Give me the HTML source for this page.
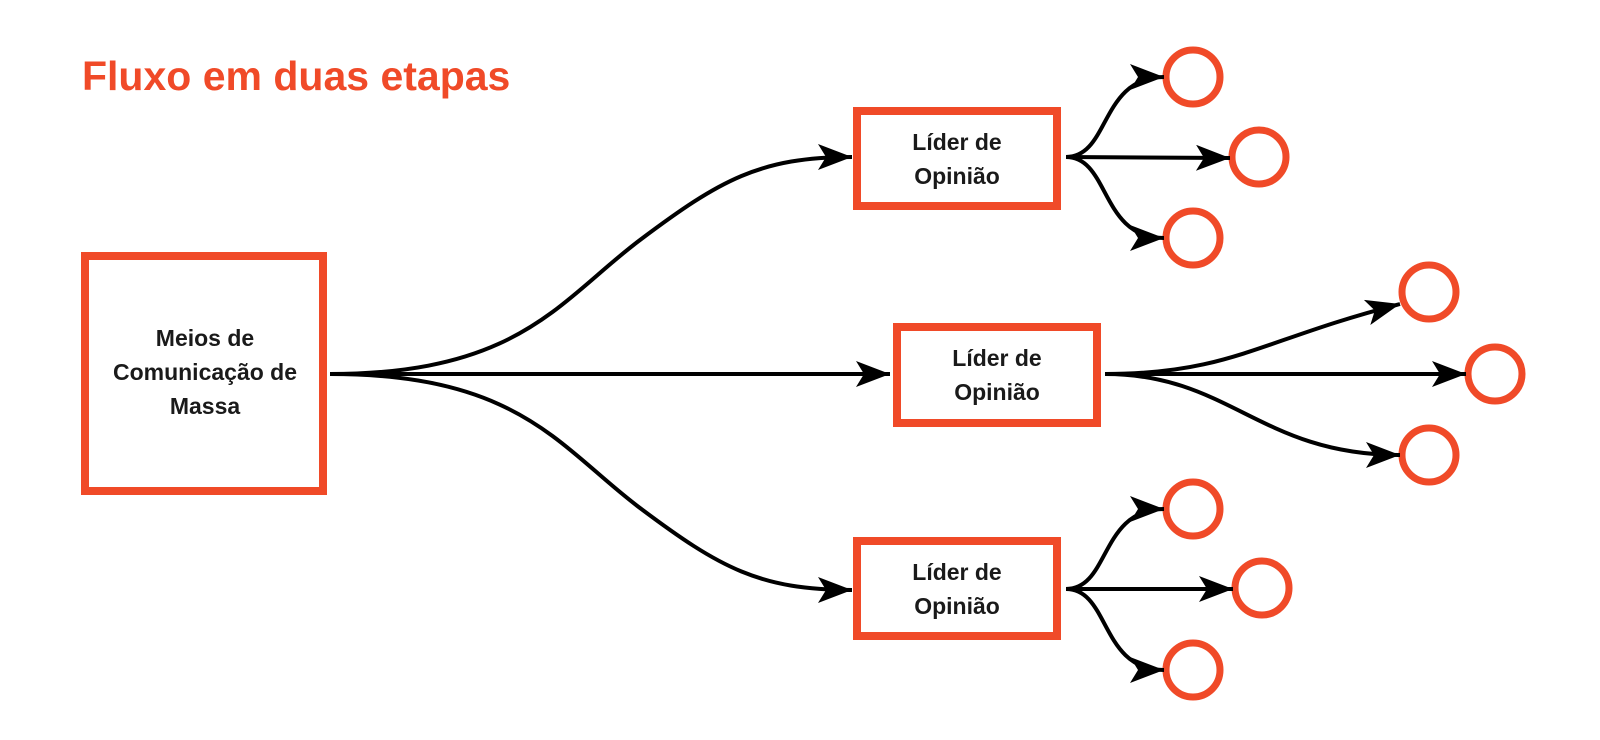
<!DOCTYPE html>
<html><head><meta charset="utf-8"><style>
html,body{margin:0;padding:0;background:#fff;width:1600px;height:740px;overflow:hidden}
svg text{font-family:"Liberation Sans","DejaVu Sans",sans-serif;font-weight:bold}
</style></head><body>
<svg width="1600" height="740" viewBox="0 0 1600 740" xmlns="http://www.w3.org/2000/svg">
<defs>
<marker id="a" markerUnits="userSpaceOnUse" markerWidth="38" markerHeight="30" refX="34" refY="13" orient="auto">
<path d="M0,0 L34,13 L0,26 L8,13 Z" fill="#000"/>
</marker>
</defs>
<text x="82" y="90" font-size="41" fill="#F04A28">Fluxo em duas etapas</text>
<g fill="none" stroke="#F04A28" stroke-width="8">
<rect x="85" y="256" width="238" height="235"/>
<rect x="857" y="111" width="200" height="95"/>
<rect x="897" y="327" width="200" height="96"/>
<rect x="857" y="541" width="200" height="95"/>
<g stroke-width="7">
<circle cx="1193" cy="77" r="27"/><circle cx="1259" cy="157" r="27"/><circle cx="1193" cy="238" r="27"/>
<circle cx="1429" cy="292" r="27"/><circle cx="1495" cy="374" r="27"/><circle cx="1429" cy="455" r="27"/>
<circle cx="1193" cy="509" r="27"/><circle cx="1262" cy="588" r="27"/><circle cx="1193" cy="670" r="27"/>
</g>
</g>
<g fill="none" stroke="#000" stroke-width="4" marker-end="url(#a)">
<path d="M330,374 C520,374 560,300 640,240 C720,180 760,157 852,157"/>
<path d="M330,374 L890,374"/>
<path d="M330,374 C520,374 560,448 640,508 C720,568 760,590 852,590"/>
<path d="M1066,157 C1110,157 1100,77 1164,77"/>
<path d="M1066,157 L1230,158"/>
<path d="M1066,157 C1110,157 1100,238 1164,238"/>
<path d="M1105,374 C1230,374 1260,340 1400,304"/>
<path d="M1105,374 L1466,374"/>
<path d="M1105,374 C1230,374 1260,455 1400,455"/>
<path d="M1066,589 C1110,589 1100,509 1164,509"/>
<path d="M1066,589 L1233,589"/>
<path d="M1066,589 C1110,589 1100,670 1164,670"/>
</g>
<g font-size="23" fill="#1a1a1a" text-anchor="middle">
<text x="205" y="346">Meios de</text>
<text x="205" y="380">Comunicação de</text>
<text x="205" y="414">Massa</text>
<text x="957" y="150">Líder de</text>
<text x="957" y="184">Opinião</text>
<text x="997" y="366">Líder de</text>
<text x="997" y="400">Opinião</text>
<text x="957" y="580">Líder de</text>
<text x="957" y="614">Opinião</text>
</g>
</svg>
</body></html>
